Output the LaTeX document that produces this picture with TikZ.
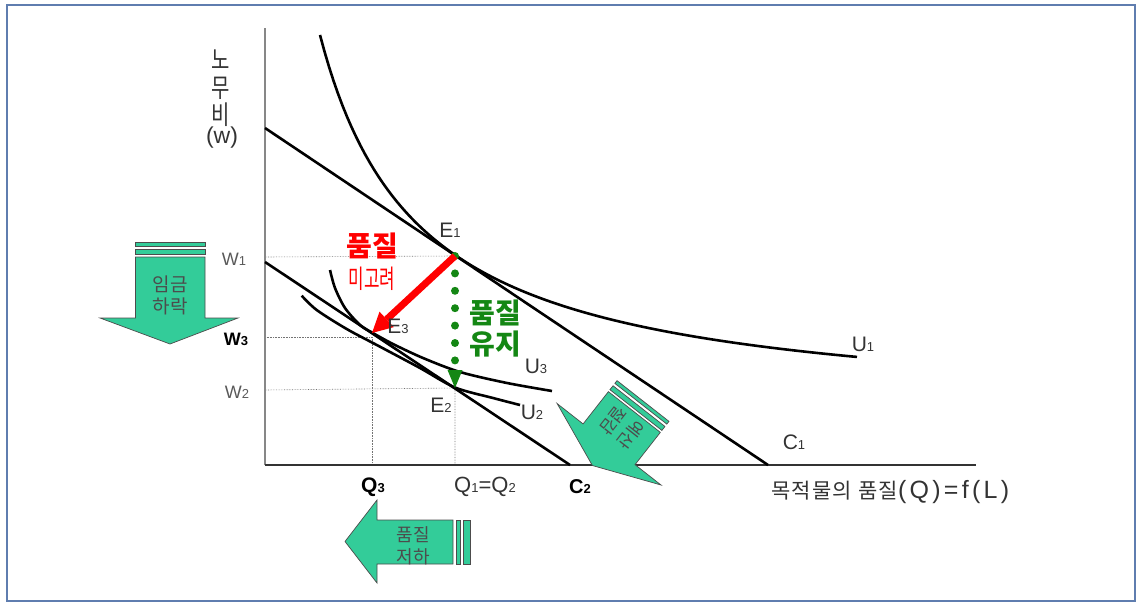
\documentclass[tikz,border=0pt]{standalone}
\usepackage{fontspec}
\usepackage{graphicx}
\setmainfont{Liberation Sans}
\newfontfamily\kr{Noto Sans CJK KR}
\usetikzlibrary{arrows.meta,calc}
\definecolor{framec}{RGB}{95,125,175}
\definecolor{arrowfill}{RGB}{51,204,153}
\definecolor{dgreen}{RGB}{20,135,20}
\definecolor{axgray}{RGB}{135,135,135}
\newcommand{\lsub}[1]{{\fontsize{13}{13}\selectfont #1}}
\begin{document}
\begin{tikzpicture}[x=1pt,y=-1pt,
  curve/.style={line width=2.6pt, black},
  budget/.style={line width=2.6pt, black},
  guide/.style={densely dotted, line width=0.6pt, black!55},
  lbl/.style={inner sep=0pt, font=\fontsize{21}{21}\selectfont, text=black!80},
  wlbl/.style={inner sep=0pt, font=\fontsize{18}{18}\selectfont, text=black!65},
  ychar/.style={inner sep=0pt, text=black!80},
  blockarrow/.style={fill=arrowfill, draw=black!70, line width=0.7pt},
  arrowtext/.style={inner sep=0pt, font=\kr\fontsize{18}{22}\selectfont, text=black!70, align=center}]
\useasboundingbox (0,0) rectangle (1137,604);
\draw[framec, line width=2.5pt] (7,5) rectangle (1135,601);

% coordinates
\coordinate (O) at (265,465);
\coordinate (Ytop) at (265,28);
\coordinate (Xend) at (976,465);
\coordinate (E1) at (455,256);
\coordinate (E2) at (455,388);
\coordinate (E3) at (372,333);
\coordinate (C1a) at (265,128);
\coordinate (C1b) at (768,465);
\coordinate (C2a) at (265,262);
\coordinate (C2b) at (570,465);
\coordinate (W1) at (265,257);
\coordinate (W3) at (265,337);
\coordinate (W2) at (265,390);
\coordinate (Q3) at (372,465);
\coordinate (Q3t) at (372,337);
\coordinate (Q1) at (455,465);
\coordinate (GD) at (455,366);

% guides
\draw[guide] (W1) -- (E1);
\draw[guide] (W3) -- (Q3t) -- (Q3);
\draw[guide] (W2) -- (E2) -- (Q1);

% axes
\draw[axgray, line width=1.8pt] (O) -- (Ytop);
\draw[black!80, line width=1.2pt] (O) -- (Xend);

% budget lines
\draw[budget] (C1a) -- (C1b);
\draw[budget] (C2a) -- (C2b);

% indifference curves
\draw[curve] plot[domain=320:857, samples=120] (\x, {416.3-377.52/((\x-221)/100)});
\draw[curve] plot[smooth] coordinates {(330,270) (335,288) (345,308) (360,325) (372,332.5) (393,344) (423,358) (460,372) (507,383) (552,391)};
\draw[curve] plot[smooth] coordinates {(301.7,295.7) (316.7,310) (346.7,329) (380,346.7) (420,368) (455,387.5) (493,398) (520,405)};

% green dotted arrow
\draw[dgreen, line width=8pt, line cap=round, dash pattern=on 0pt off 17.4pt] (E1) -- (GD);
\fill[dgreen] (447.5,370) -- (462.5,370) -- (E2) -- cycle;

% red arrow
\draw[red, line width=7pt, -{Triangle[length=20pt,width=21pt,line width=0pt]}] (E1) -- (E3);

% labels
\node[lbl] (lE1) at (450,230) {E\lsub{1}};
\node[lbl] (lE3) at (398,326) {E\lsub{3}};
\node[lbl] (lE2) at (441,405) {E\lsub{2}};
\node[lbl] (lU3) at (536,366) {U\lsub{3}};
\node[lbl] (lU2) at (532,412) {U\lsub{2}};
\node[lbl] (lU1) at (863,344) {U\lsub{1}};
\node[lbl] (lC1) at (794,442) {C\lsub{1}};
\node[lbl, font=\bfseries\fontsize{20}{20}\selectfont, text=black] (lC2) at (580,487) {C\lsub{2}};
\node[lbl, font=\bfseries\fontsize{21}{21}\selectfont, text=black] (lQ3) at (373,487) {Q\lsub{3}};
\node[lbl, font=\fontsize{22}{22}\selectfont] (lQ12) at (485,487) {Q\lsub{1}=Q\lsub{2}};
\node[wlbl] (lW1) at (234,259) {W\lsub{1}};
\node[wlbl, font=\bfseries\fontsize{18}{18}\selectfont, text=black] (lW3) at (236,339) {W\lsub{3}};
\node[wlbl] (lW2) at (237,392) {W\lsub{2}};

% axis titles
\node[ychar] (y1) at (221,60) {\scalebox{0.95}[1.25]{\kr\fontsize{21}{21}\selectfont 노}};
\node[ychar] (y2) at (221,88) {\scalebox{0.95}[1.25]{\kr\fontsize{21}{21}\selectfont 무}};
\node[ychar] (y3) at (221,115) {\scalebox{0.95}[1.25]{\kr\fontsize{21}{21}\selectfont 비}};
\node[ychar, font=\fontsize{23}{23}\selectfont] (ytitlew) at (222,138) {(w)};
\node[inner sep=0pt, anchor=west, text=black!80] (xtitle) at (771,492)
  {{\kr\fontsize{21}{21}\selectfont\addfontfeature{LetterSpace=6}목적물의\hspace{6pt}품질}{\fontsize{25}{25}\selectfont\addfontfeature{LetterSpace=13}(Q)=f(L)}};

% red and green texts
\node[inner sep=0pt, font=\kr\bfseries\fontsize{28}{28}\selectfont, text=red] (red1) at (372,246) {품질};
\node[inner sep=0pt, text=red] (red2) at (372,279) {\scalebox{0.65}[1]{\kr\fontsize{26}{26}\selectfont 미고려}};
\node[inner sep=0pt, font=\kr\bfseries\fontsize{28}{31}\selectfont, text=dgreen, align=center] (grn) at (495,329) {품질\\유지};

% block arrow 1: wage fall (down)
\draw[blockarrow] (135.5,242.5) rectangle (205,246.5);
\draw[blockarrow] (135.5,249.5) rectangle (205,254);
\draw[blockarrow] (135.5,257) -- (205,257) -- (205,318) -- (238,318) -- (170,344) -- (100,318) -- (135.5,318) -- cycle;
\node[arrowtext, font=\kr\fontsize{19}{22}\selectfont] (t1) at (170,295) {임금\\하락};

% block arrow 2: quality fall (left)
\draw[blockarrow] (456,520) rectangle (460.5,564);
\draw[blockarrow] (463.5,520) rectangle (470,564);
\draw[blockarrow] (453,520) -- (377,520) -- (377,500) -- (345,541.5) -- (377,583) -- (377,564) -- (453,564) -- cycle;
\node[arrowtext] (t2) at (413,546) {품질\\저하};

% block arrow 3: budget cut (diagonal)
\begin{scope}[shift={(643,401)}, rotate=231.9]
  \draw[blockarrow] (0,-33) rectangle (3.5,33);
  \draw[blockarrow] (6.5,-33) rectangle (11.5,33);
  \draw[blockarrow] (14,-33) -- (55,-33) -- (55,-66) -- (82,0) -- (55,66) -- (55,33) -- (14,33) -- cycle;
  \node[arrowtext, font=\kr\fontsize{17}{17}\selectfont, rotate=231.9] (t3a) at (34,-11) {예산};
  \node[arrowtext, font=\kr\fontsize{17}{17}\selectfont, rotate=231.9] (t3b) at (34,11) {절감};
\end{scope}
\end{tikzpicture}
\end{document}
